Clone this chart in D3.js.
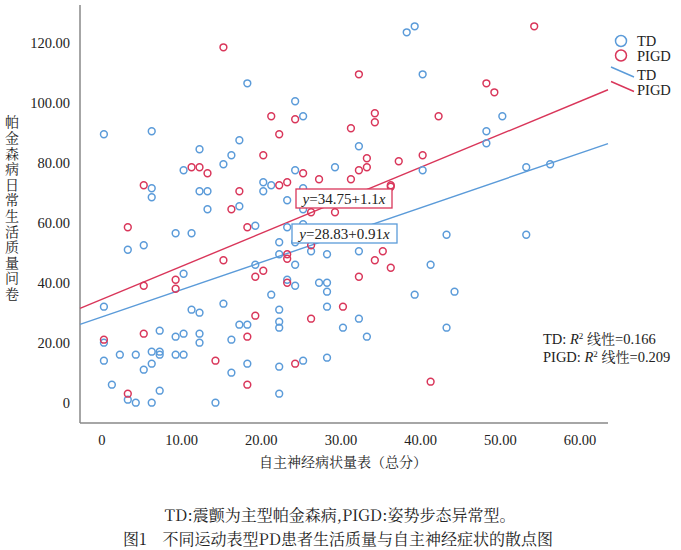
<!DOCTYPE html>
<meta charset="utf-8">
<head>
  <style>
    body { margin: 0; background: #fff; }
    .tick-label { font-family: "Liberation Serif", serif; font-size: 14.5px; fill: #222; }
    .cn { font-family: "Noto Serif CJK SC", "Noto Sans CJK SC", sans-serif; fill: #222; }
    .serif { font-family: "Liberation Serif", serif; fill: #222; }
  </style>
</head>
<script src="https://cdn.jsdelivr.net/npm/d3@7"></script>
<div id="chart"></div>
<script>
// TD points [autonomic score, quality of life score]
const tdPoints = [
  [18,106.5],[0,89.5],[6,90.5],[17,87.5],[12,84.5],[16,82.5],[15,79.5],[10,77.5],
  [6,71.5],[6,68.5],[12,70.5],[13,70.5],[13,64.5],[17,65.5],
  [38,123.5],[39,125.5],[40,109.5],[24,100.5],[25,95.5],[32,85.5],[40,77.5],[29,78.5],
  [24,77.5],[20,73.5],[21,72.5],[20,70.5],[25,71.5],[23,67.5],[25,64.5],
  [50,95.5],[48,90.5],[48,86.5],[53,78.5],[56,79.5],
  [19,59],[9,56.5],[11,56.5],[3,51],[5,52.5],[19,46],[10,43],[0,32],[11,31],[12,30],
  [15,33],[17,26],[18,26],[0,20],[7,24],[9,22],[10,23],[12,23],[12,20],[16,21],
  [0,14],[2,16],[4,16],[6,17],[7,17],[7,16],[9,16],[10,16],[6,13],[5,11],[16,10],
  [18,13],[1,6],[3,1],[4,0],[6,0],[7,4],[14,0],
  [23,58.5],[25,59.5],[22,53.5],[24,53.5],[26,50.5],[28,49.5],[32,50.5],[41,46],
  [22,49.5],[24,46],[23,41],[24,39],[27,40],[28,40],[28,37],[21,36],[39,36],[28,32],
  [22,31],[32,28],[22,27],[22,25],[30,25],[33,22],[28,15],[25,14],[22,12],[22,3],
  [43,56],[53,56],[44,37],[43,25]
];

// PIGD points
const pigdPoints = [
  [15,118.5],[11,78.5],[12,78.5],[13,76.5],[5,72.5],[17,70.5],[16,64.5],
  [32,109.5],[21,95.5],[24,94.5],[34,96.5],[34,93.5],[31,91.5],[22,89.5],[20,82.5],
  [33,81.5],[33,78.5],[32,77.5],[37,80.5],[40,82.5],[25,76.5],[27,74.5],[31,74.5],
  [22,72.5],[23,73.5],[36,72.5],[36,72],[26,63.5],[29,63.5],
  [54,125.5],[48,106.5],[49,103.5],[42,95.5],
  [3,58.5],[18,58.5],[15,47.5],[19,42],[9,41],[9,38],[5,39],[19,29],[0,21],[5,23],
  [18,22],[14,14],[3,3],[18,6],
  [26,52.5],[35,50.5],[34,47.5],[36,45],[20,44],[23,49.5],[23,48],[32,42],[23,40],
  [30,32],[26,28],[24,13],[41,7]
];

const xTicks = [0, 10, 20, 30, 40, 50, 60];
const yTicks = [0, 20, 40, 60, 80, 100, 120];

// fit lines: intercept, slope
const tdFit = [28.83, 0.91];
const pigdFit = [34.75, 1.1];
const r2Values = [["TD", "0.166"], ["PIGD", "0.209"]];

const BLUE = "#5b9bd9";
const RED = "#d9365a";

const svg = d3.select("#chart").append("svg")
  .attr("width", 681).attr("height", 550);

const x = d3.scaleLinear().domain([-3, 63.26]).range([80, 608]);
const y = d3.scaleLinear().domain([-6.77, 132.6]).range([423, 5]);

// axes lines (no tick marks)
svg.append("line").attr("x1", 80).attr("x2", 80).attr("y1", 5).attr("y2", 423)
  .attr("stroke", "#888").attr("stroke-width", 1.5);
svg.append("line").attr("x1", 80).attr("x2", 608).attr("y1", 423).attr("y2", 423)
  .attr("stroke", "#888").attr("stroke-width", 1.5);

svg.selectAll(".ytick").data(yTicks).enter().append("text")
  .attr("class", "tick-label")
  .attr("x", 70).attr("y", d => y(d) + 5)
  .attr("text-anchor", "end")
  .text(d => d === 0 ? "0" : d.toFixed(2));

svg.selectAll(".xtick").data(xTicks).enter().append("text")
  .attr("class", "tick-label")
  .attr("x", d => x(d) - 2).attr("y", 445)
  .attr("text-anchor", "middle")
  .text(d => d === 0 ? "0" : d.toFixed(2));

// fit lines
function fitLine(fit, color) {
  const dom = x.domain();
  svg.append("line")
    .attr("x1", x(dom[0])).attr("y1", y(fit[0] + fit[1] * dom[0]))
    .attr("x2", x(dom[1])).attr("y2", y(fit[0] + fit[1] * dom[1]))
    .attr("stroke", color).attr("stroke-width", 1.4);
}
fitLine(tdFit, BLUE);
fitLine(pigdFit, RED);

// points
function drawPoints(data, color) {
  svg.append("g").selectAll("circle").data(data).enter().append("circle")
    .attr("cx", d => x(d[0])).attr("cy", d => y(d[1]))
    .attr("r", 3.4)
    .attr("fill", "none")
    .attr("stroke", color).attr("stroke-width", 1.5);
}
drawPoints(tdPoints, BLUE);
drawPoints(pigdPoints, RED);

// equation boxes
function eqBox(fit, color, bx, by, w, h) {
  const g = svg.append("g");
  g.append("rect").attr("x", bx).attr("y", by).attr("width", w).attr("height", h)
    .attr("fill", "#fff").attr("stroke", color).attr("stroke-width", 1.3);
  const t = g.append("text").attr("class", "serif")
    .attr("x", bx + w / 2).attr("y", by + h - 4.5)
    .attr("text-anchor", "middle").style("font-size", "15px");
  t.append("tspan").style("font-style", "italic").text("y");
  t.append("tspan").text("=" + fit[0] + "+" + fit[1]);
  t.append("tspan").style("font-style", "italic").text("x");
}
eqBox(pigdFit, RED, 296, 189, 96, 19);
eqBox(tdFit, BLUE, 292, 224, 105, 19);

// R2 notes
r2Values.forEach((r, i) => {
  const t = svg.append("text").attr("class", "serif")
    .attr("x", 543).attr("y", 344 + i * 18).style("font-size", "14.5px");
  t.append("tspan").text(r[0] + ": ");
  t.append("tspan").style("font-style", "italic").text("R");
  t.append("tspan").attr("dy", -5).style("font-size", "9px").text("2");
  t.append("tspan").attr("dy", 5).text(" ");
  t.append("tspan").attr("class", "cn").style("font-size", "14px").text("线性");
  t.append("tspan").text("=" + r[1]);
});

// legend
const legend = svg.append("g");
[["TD", BLUE], ["PIGD", RED]].forEach((d, i) => {
  legend.append("circle").attr("cx", 621).attr("cy", 41 + i * 14.5).attr("r", 5.5)
    .attr("fill", "none").attr("stroke", d[1]).attr("stroke-width", 1.5);
  legend.append("text").attr("class", "serif").style("font-size", "14.5px")
    .attr("x", 637).attr("y", 46 + i * 14.5).text(d[0]);
  legend.append("line").attr("x1", 611).attr("y1", 67 + i * 14.5)
    .attr("x2", 634).attr("y2", 77 + i * 14.5)
    .attr("stroke", d[1]).attr("stroke-width", 1.4);
  legend.append("text").attr("class", "serif").style("font-size", "14.5px")
    .attr("x", 637).attr("y", 80 + i * 14.5).text(d[0]);
});

// y title, written vertically
svg.append("text").attr("class", "cn")
  .attr("x", 12).attr("y", 115)
  .style("font-size", "14px")
  .style("writing-mode", "vertical-rl")
  .style("text-orientation", "upright")
  .style("letter-spacing", "1.6px")
  .text("帕金森病日常生活质量问卷");

svg.append("text").attr("class", "cn").style("font-size", "14px")
  .attr("x", 343).attr("y", 467).attr("text-anchor", "middle")
  .text("自主神经病状量表（总分）");

svg.append("text").attr("class", "cn").style("font-size", "16px")
  .attr("x", 340).attr("y", 521).attr("text-anchor", "middle")
  .text("TD:震颤为主型帕金森病,PIGD:姿势步态异常型。");
svg.append("text").attr("class", "cn").style("font-size", "16px")
  .attr("x", 338).attr("y", 545).attr("text-anchor", "middle")
  .text("图1　不同运动表型PD患者生活质量与自主神经症状的散点图");
</script>
